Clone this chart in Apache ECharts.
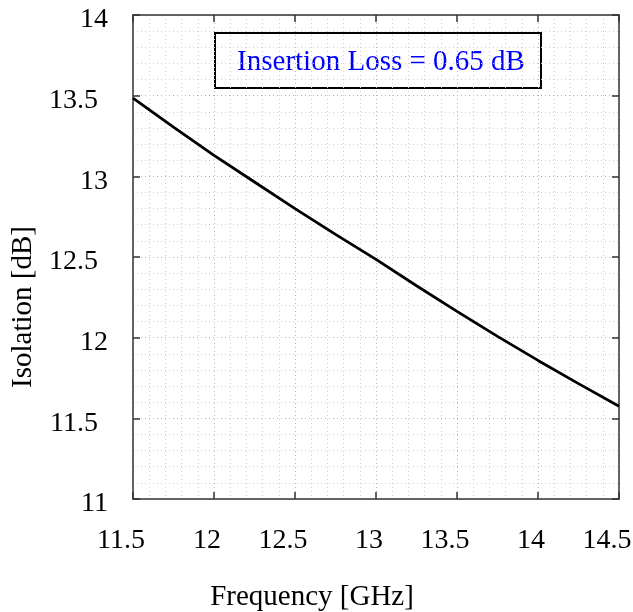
<!DOCTYPE html>
<html>
<head>
<meta charset="utf-8">
<script src="https://cdn.jsdelivr.net/npm/echarts@6/dist/echarts.min.js"></script>
<style>
    html, body { margin: 0; padding: 0; background: #fff; }
    #chart { width: 633px; height: 612px; }
</style>
</head>
<body>
<div id="chart"></div>
<script>
// 频率 (GHz)
const freqs = [11.5, 11.75, 12, 12.25, 12.5, 12.75, 13, 13.25, 13.5, 13.75, 14, 14.25, 14.5];
// 隔离度 (dB)
const isolation = [13.485, 13.305, 13.13, 12.965, 12.80, 12.64, 12.485, 12.322, 12.163, 12.008, 11.859, 11.715, 11.575];
const annotation = 'Insertion Loss = 0.65 dB';

const font = '"Liberation Serif", "DejaVu Serif", serif';
const frameColor = '#333';
const majorGrid = { type: [1, 3], color: '#b5b5b5', width: 1 };
const minorGrid = { type: [1, 3], color: '#d0d0d0', width: 1 };

const myChart = echarts.init(document.getElementById('chart'));

// 整数和小数标签的位置偏移不同
const tickFmt = v => Number.isInteger(v) ? `{i|${v}}` : `{d|${v}}`;
const labelBase = { fontFamily: font, fontSize: 28, color: '#000' };

function mirrorAxis(pos) {
    return {
        type: 'value', position: pos, min: pos === 'top' ? 11.5 : 11, max: pos === 'top' ? 14.5 : 14, interval: 0.5,
        axisLine: { show: true, onZero: false, lineStyle: { color: frameColor, width: 1.5 } },
        axisTick: { show: true, inside: true, length: 7, lineStyle: { color: frameColor, width: 1.5 } },
        axisLabel: { show: false },
        splitLine: { show: false }
    };
}

myChart.setOption({
    animation: false,
    backgroundColor: '#fff',
    grid: { left: 133, right: 14, top: 15, bottom: 113, outerBoundsMode: 'none' },
    xAxis: [{
        type: 'value', min: 11.5, max: 14.5, interval: 0.5,
        name: 'Frequency [GHz]', nameLocation: 'middle', nameGap: 84,
        nameTextStyle: { fontFamily: font, fontSize: 29, color: '#000', padding: [0, 128, 0, 0] },
        axisLine: { show: true, onZero: false, lineStyle: { color: frameColor, width: 1.5 } },
        axisTick: { show: true, inside: true, length: 7, lineStyle: { color: frameColor, width: 1.5 } },
        axisLabel: {
            ...labelBase, margin: 28, overflow: 'none', formatter: tickFmt,
            rich: {
                i: { ...labelBase, padding: [0, 14, 0, 0] },
                d: { ...labelBase, padding: [0, 24, 0, 0] }
            }
        },
        minorTick: { show: false, splitNumber: 5 },
        splitLine: { show: true, lineStyle: majorGrid },
        minorSplitLine: { show: true, lineStyle: minorGrid }
    }, mirrorAxis('top')],
    yAxis: [{
        type: 'value', min: 11, max: 14, interval: 0.5,
        name: 'Isolation [dB]', nameLocation: 'middle', nameGap: 94,
        nameTextStyle: { fontFamily: font, fontSize: 29, color: '#000', padding: [0, 100, 0, 0] },
        axisLine: { show: true, onZero: false, lineStyle: { color: frameColor, width: 1.5 } },
        axisTick: { show: true, inside: true, length: 7, lineStyle: { color: frameColor, width: 1.5 } },
        axisLabel: {
            ...labelBase, margin: 25, formatter: tickFmt,
            rich: {
                i: { ...labelBase, padding: [10, 0, 0, 0] },
                d: { ...labelBase, padding: [10, 10, 0, 0] }
            }
        },
        minorTick: { show: false, splitNumber: 5 },
        splitLine: { show: true, lineStyle: majorGrid },
        minorSplitLine: { show: true, lineStyle: minorGrid }
    }, mirrorAxis('right')],
    series: [{
        type: 'line',
        data: freqs.map((f, i) => [f, isolation[i]]),
        showSymbol: false,
        smooth: false,
        lineStyle: { color: '#000', width: 2.8 },
        z: 5
    }],
    graphic: [{
        type: 'group', left: 214, top: 32,
        children: [{
            type: 'rect',
            shape: { x: 0, y: 0, width: 326, height: 55 },
            style: { fill: '#fff', stroke: '#000', lineWidth: 2 }
        }, {
            type: 'text',
            x: 166, y: 29,
            style: {
                text: annotation, fontFamily: font, fontSize: 29, fill: '#0000ff',
                align: 'center', verticalAlign: 'middle'
            }
        }]
    }]
});
</script>
</body>
</html>
